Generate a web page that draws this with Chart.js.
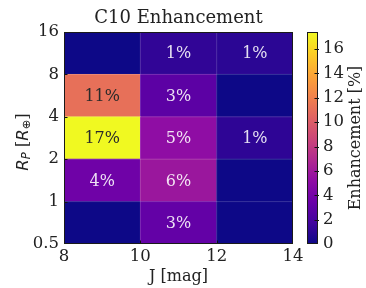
<!DOCTYPE html>
<html>
<head>
<meta charset="utf-8">
<script src="https://cdn.jsdelivr.net/npm/chart.js@4/dist/chart.umd.min.js"></script>
<style>
  html, body { margin: 0; padding: 0; background: #fff; }
  #wrap { position: relative; width: 366px; height: 288px; }
  #wrap canvas { position: absolute; left: 0; top: 0; }
</style>
</head>
<body>
<div id="wrap">
  <canvas id="heat" width="366" height="288"></canvas>
  <canvas id="cbar" width="366" height="288"></canvas>
</div>
<script>
// bin edges
const jEdges = [8, 10, 12, 14];
const rpEdges = [0.5, 1, 2, 4, 8, 16];

// enhancement [%] per row (bottom to top), columns J 8-10, 10-12, 12-14
const row05to1 = [0, 3.2, 0];
const row1to2 = [3.7, 5.8, 0];
const row2to4 = [17.4, 5.2, 1.1];
const row4to8 = [11.1, 2.9, 0];
const row8to16 = [0, 1.2, 1.0];
const rows = [row05to1, row1to2, row2to4, row4to8, row8to16];

const xTicks = [8, 10, 12, 14];
const yTicks = [0.5, 1, 2, 4, 8, 16];
const cbarTicks = [0, 2, 4, 6, 8, 10, 12, 14, 16];
const vmax = 17.4;

const serif = 'DejaVu Serif';
const textCol = '#222';

// plasma colormap
const plasmaStops = [
  [13, 8, 135], [65, 4, 157], [106, 0, 168], [143, 13, 164], [177, 42, 144],
  [204, 71, 120], [225, 100, 98], [242, 132, 75], [252, 166, 54], [252, 206, 37], [240, 249, 33]
];
function plasma(t) {
  t = Math.max(0, Math.min(1, t));
  const p = t * (plasmaStops.length - 1);
  const i = Math.min(Math.floor(p), plasmaStops.length - 2);
  const f = p - i;
  const a = plasmaStops[i], b = plasmaStops[i + 1];
  const c = a.map((v, k) => Math.round(v + (b[k] - v) * f));
  return `rgb(${c[0]},${c[1]},${c[2]})`;
}

const heatDatasets = rows.map((vals, r) => ({
  data: vals.map((v, c) => ({ x: (jEdges[c] + jEdges[c + 1]) / 2, y: [rpEdges[r], rpEdges[r + 1]] })),
  backgroundColor: vals.map(v => plasma(v / vmax)),
  borderWidth: 0,
  grouped: false,
  barPercentage: 1,
  categoryPercentage: 1
}));

// cell text, faint cell edges, frame, inward ticks, titles
const heatDeco = {
  id: 'heatDeco',
  afterDatasetsDraw(chart) {
    const { ctx, chartArea: a, scales: { x, y } } = chart;
    ctx.save();
    // faint cell edges
    ctx.strokeStyle = 'rgba(255,255,255,0.18)';
    ctx.lineWidth = 1;
    jEdges.slice(1, -1).forEach(v => {
      const px = x.getPixelForValue(v);
      ctx.beginPath(); ctx.moveTo(px, a.top); ctx.lineTo(px, a.bottom); ctx.stroke();
    });
    rpEdges.slice(1, -1).forEach(v => {
      const py = y.getPixelForValue(v);
      ctx.beginPath(); ctx.moveTo(a.left, py); ctx.lineTo(a.right, py); ctx.stroke();
    });

    // percentages
    ctx.font = `16px "${serif}"`;
    ctx.textAlign = 'center';
    ctx.textBaseline = 'middle';
    rows.forEach((vals, r) => {
      const meta = chart.getDatasetMeta(r);
      vals.forEach((v, c) => {
        if (Math.round(v) < 1) return;
        const el = meta.data[c];
        ctx.fillStyle = v > vmax * 0.5 ? '#2a2a2a' : 'rgba(255,255,255,0.88)';
        ctx.fillText(Math.round(v) + '%', el.x, (el.y + el.base) / 2 + 1);
      });
    });

    // inward ticks
    ctx.strokeStyle = '#111';
    yTicks.slice(1, -1).forEach(v => {
      const py = Math.round(y.getPixelForValue(v)) + 0.5;
      ctx.beginPath(); ctx.moveTo(a.left, py); ctx.lineTo(a.left + 3.5, py); ctx.stroke();
    });
    xTicks.slice(1, -1).forEach(v => {
      const px = Math.round(x.getPixelForValue(v)) + 0.5;
      ctx.beginPath(); ctx.moveTo(px, a.bottom); ctx.lineTo(px, a.bottom - 3.5); ctx.stroke();
    });

    // frame
    ctx.strokeStyle = '#1a1a1a';
    ctx.strokeRect(a.left + 0.5, a.top + 0.5, a.right - a.left - 1, a.bottom - a.top - 1);

    // title
    ctx.fillStyle = textCol;
    ctx.font = `18px "${serif}"`;
    ctx.textAlign = 'center';
    ctx.textBaseline = 'alphabetic';
    ctx.fillText('C10 Enhancement', (a.left + a.right) / 2, 23);

    // y axis title: R_P [R_⊕]
    const parts = [
      { t: 'R', f: `italic 16.5px "DejaVu Sans"`, dy: 0 },
      { t: 'P', f: `italic 11.5px "DejaVu Sans"`, dy: 3.5 },
      { t: ' [', f: `16.5px "${serif}"`, dy: 0 },
      { t: 'R', f: `italic 16.5px "DejaVu Sans"`, dy: 0 },
      { t: '\u2295', f: `11.5px "DejaVu Sans"`, dy: 3.5 },
      { t: ']', f: `16.5px "${serif}"`, dy: 0 }
    ];
    let total = 0;
    parts.forEach(p => { ctx.font = p.f; p.w = ctx.measureText(p.t).width; total += p.w; });
    ctx.translate(24, 142);
    ctx.rotate(-Math.PI / 2);
    ctx.textAlign = 'left';
    ctx.textBaseline = 'middle';
    let cx = -total / 2;
    parts.forEach(p => {
      ctx.font = p.f;
      ctx.fillText(p.t, cx, p.dy);
      cx += p.w;
    });
    ctx.restore();
  }
};

new Chart(document.getElementById('heat'), {
  type: 'bar',
  data: { datasets: heatDatasets },
  options: {
    responsive: false,
    animation: false,
    layout: { padding: { top: 32, right: 73, left: 0, bottom: 0 } },
    plugins: { legend: { display: false }, tooltip: { enabled: false } },
    scales: {
      x: {
        type: 'linear', min: 8, max: 14, offset: false,
        afterBuildTicks: s => { s.ticks = xTicks.map(v => ({ value: v })); },
        afterFit: s => { s.height = 44; },
        grid: { display: false, drawTicks: false },
        border: { display: false },
        ticks: { color: textCol, font: { family: serif, size: 16.5 }, padding: 3, maxRotation: 0, autoSkip: false },
        title: { display: true, text: 'J [mag]', color: textCol, font: { family: serif, size: 16 }, padding: { top: 0, bottom: 2 } }
      },
      y: {
        type: 'logarithmic', min: 0.5, max: 16,
        afterBuildTicks: s => { s.ticks = yTicks.map(v => ({ value: v })); },
        afterFit: s => { s.width = 64; },
        grid: { display: false, drawTicks: false },
        border: { display: false },
        ticks: { color: textCol, font: { family: serif, size: 16.5 }, padding: 5, autoSkip: false, callback: v => String(v) }
      }
    }
  },
  plugins: [heatDeco]
});

// colour bar
const cbarDeco = {
  id: 'cbarDeco',
  afterDatasetsDraw(chart) {
    const { ctx, chartArea: a, scales: { y } } = chart;
    ctx.save();
    ctx.strokeStyle = '#111';
    ctx.lineWidth = 1;
    cbarTicks.slice(1).forEach(v => {
      const py = Math.round(y.getPixelForValue(v)) + 0.5;
      ctx.beginPath(); ctx.moveTo(a.right - 3.5, py); ctx.lineTo(a.right + 1, py); ctx.stroke();
    });
    ctx.strokeStyle = '#1a1a1a';
    ctx.strokeRect(a.left + 0.5, a.top + 0.5, a.right - a.left - 1, a.bottom - a.top - 1);
    ctx.fillStyle = textCol;
    ctx.font = `16px "${serif}"`;
    ctx.textAlign = 'center';
    ctx.textBaseline = 'middle';
    ctx.translate(356, (a.top + a.bottom) / 2);
    ctx.rotate(-Math.PI / 2);
    ctx.fillText('Enhancement [%]', 0, 0);
    ctx.restore();
  }
};

new Chart(document.getElementById('cbar'), {
  type: 'bar',
  data: {
    labels: [''],
    datasets: [{
      data: [[0, vmax]],
      borderWidth: 0,
      barPercentage: 1,
      categoryPercentage: 1,
      backgroundColor: c => {
        const chart = c.chart;
        if (!chart.chartArea) return plasma(0.5);
        const y = chart.scales.y;
        const g = chart.ctx.createLinearGradient(0, y.getPixelForValue(0), 0, y.getPixelForValue(vmax));
        plasmaStops.forEach((s, i) => g.addColorStop(i / (plasmaStops.length - 1), `rgb(${s[0]},${s[1]},${s[2]})`));
        return g;
      }
    }]
  },
  options: {
    responsive: false,
    animation: false,
    layout: { padding: { left: 307, top: 32, bottom: 44, right: 0 } },
    plugins: { legend: { display: false }, tooltip: { enabled: false } },
    scales: {
      x: { display: false },
      y: {
        position: 'right', min: 0, max: vmax,
        afterBuildTicks: s => { s.ticks = cbarTicks.map(v => ({ value: v })); },
        afterFit: s => { s.width = 48; },
        grid: { display: false, drawTicks: false },
        border: { display: false },
        ticks: { color: textCol, font: { family: serif, size: 16.5 }, padding: 5, autoSkip: false }
      }
    }
  },
  plugins: [cbarDeco]
});
</script>
</body>
</html>
